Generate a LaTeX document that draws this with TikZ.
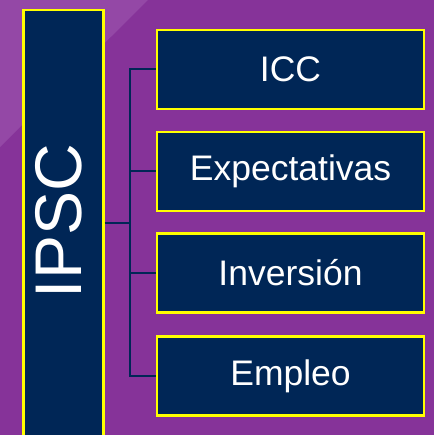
\documentclass[tikz,border=0pt]{standalone}
\usepackage{fontspec}
\setmainfont{Liberation Sans}
\definecolor{bgpurple}{RGB}{134,51,153}
\definecolor{bglight}{RGB}{148,72,166}
\definecolor{navy}{RGB}{0,38,86}
\definecolor{ybord}{RGB}{255,255,0}
\begin{document}
\begin{tikzpicture}[x=1pt,y=-1pt,
  itembox/.style={draw=ybord,line width=2.5pt,fill=navy,text=white,
    minimum width=267pt,minimum height=79pt,inner sep=0pt,
    font=\fontsize{35.5}{40}\selectfont},
  conn/.style={draw=navy,line width=2pt}]
\useasboundingbox (0,0) rectangle (434,435);
\fill[bgpurple] (0,0) rectangle (434,435);
\fill[bglight] (0,0) -- (148,0) -- (0,147) -- cycle;
% left tall box
\node[draw=ybord,line width=2.5pt,fill=navy,minimum width=80pt,minimum height=442pt,inner sep=0pt,anchor=north west] (ipsc) at (22,9) {};
\node[rotate=90,text=white,inner sep=0pt,font=\fontsize{66}{70}\selectfont] (ipsctext) at (59,221) {IPSC};
% right boxes
\node[itembox] (icc) at (290.5,69.5) {ICC};
\node[itembox] (exp) at (290.5,171.5) {Expectativas};
\node[itembox] (inv) at (290.5,273) {Inversión};
\node[itembox] (emp) at (290.5,376) {Empleo};
% connectors
\coordinate (hub) at (130,222.5);
\coordinate (top) at (130,69.5);
\coordinate (bot) at (130,376);
\draw[conn] (ipsc.east |- hub) -- (hub);
\draw[conn] (icc.west) -- (top) -- (bot) -- (emp.west);
\draw[conn] (exp.west) -- (exp.west -| hub);
\draw[conn] (inv.west) -- (inv.west -| hub);
\end{tikzpicture}
\end{document}
